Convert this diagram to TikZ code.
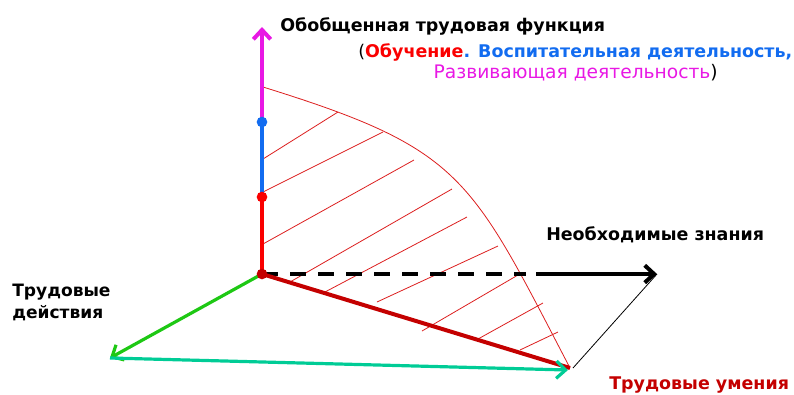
\documentclass[tikz,border=0pt]{standalone}
\usepackage{fontspec}
\setmainfont{DejaVu Sans}
\usetikzlibrary{arrows.meta}
\definecolor{cmag}{RGB}{232,24,228}
\definecolor{cblue}{RGB}{18,108,240}
\definecolor{cred}{RGB}{250,0,0}
\definecolor{cdred}{RGB}{196,0,0}
\definecolor{cgreen}{RGB}{30,200,20}
\definecolor{cteal}{RGB}{0,204,150}
\definecolor{chatch}{RGB}{220,30,30}
\tikzset{
  axis/.style={line width=3pt},
  barb/.style={-{Straight Barb[length=7pt,width=13pt]}},
  hatch/.style={chatch,line width=0.6pt},
  dot/.style={circle,inner sep=0pt,minimum size=8pt},
  lbl/.style={inner sep=0pt,anchor=base west,font=\fontsize{13.1}{15.5}\selectfont\bfseries},
}
\begin{document}
\begin{tikzpicture}[x=0.75pt,y=-0.75pt]
\useasboundingbox (0,0) rectangle (794,394);
% coordinates
\coordinate (O) at (262,274);
\coordinate (top) at (262,27);
\coordinate (pB) at (262,122);
\coordinate (pR) at (262,197);
\coordinate (dEnd) at (526,274);
\coordinate (sStart) at (536,274);
\coordinate (K) at (657,274);
\coordinate (U) at (570,368);
\coordinate (D) at (110,358);
\coordinate (T) at (568,370);
\coordinate (C0) at (263,87);
% hatch
\draw[hatch] (263,159) -- (338,112);
\draw[hatch] (263,192) -- (383,132);
\draw[hatch] (263,244) -- (414,160);
\draw[hatch] (290,282) -- (452,189);
\draw[hatch] (325,292) -- (467,217);
\draw[hatch] (377,302) -- (498,246);
\draw[hatch] (422,331) -- (518,275);
\draw[hatch] (478,339) -- (543,303);
\draw[hatch] (520,350) -- (558,332);
% curve
\draw[hatch] (C0) .. controls (463,149) and (470,176) .. (U);
% vertical axis
\draw[axis,cmag,barb] (pB) -- (top);
\draw[axis,cblue] (pR) -- (pB);
\draw[axis,cred] (O) -- (pR);
% knowledge axis
\draw[axis,black,dash pattern=on 12pt off 9pt] (O) -- (dEnd);
\draw[axis,black,barb] (sStart) -- (K);
% skills
\draw[axis,cdred] (O) -- (U);
\draw[black,line width=0.6pt] (U) ++(3,0) -- (K);
% actions
\draw[cgreen,line width=2.4pt,barb] (O) -- (D);
\draw[cteal,line width=2.4pt,barb] (D) -- (T);
% dots
\node[dot,fill=cblue] (nB) at (pB) {};
\node[dot,fill=cred] (nR) at (pR) {};
\node[dot,fill=cdred] (nO) at (O) {};
% labels
\node[lbl] (t1) at (280,31) {Обобщенная трудовая функция};
\node[lbl] (t2) at (358,57) {\mdseries(\bfseries\textcolor{cred}{Обучение}\textcolor{cblue}{. Воспитательная деятельность,}};
\node[lbl,anchor=base east,font=\fontsize{14}{16}\selectfont] (t3) at (718,78) {\textcolor{cmag}{Развивающая деятельность})};
\node[lbl] (kn) at (546,240) {Необходимые знания};
\node[lbl] (um) at (609,389) {\textcolor{cdred}{Трудовые умения}};
\node[lbl,align=left,anchor=north west,font=\fontsize{12.8}{15.5}\selectfont\bfseries] (da) at (12,284) {Трудовые\\[1pt]действия};
\end{tikzpicture}
\end{document}
